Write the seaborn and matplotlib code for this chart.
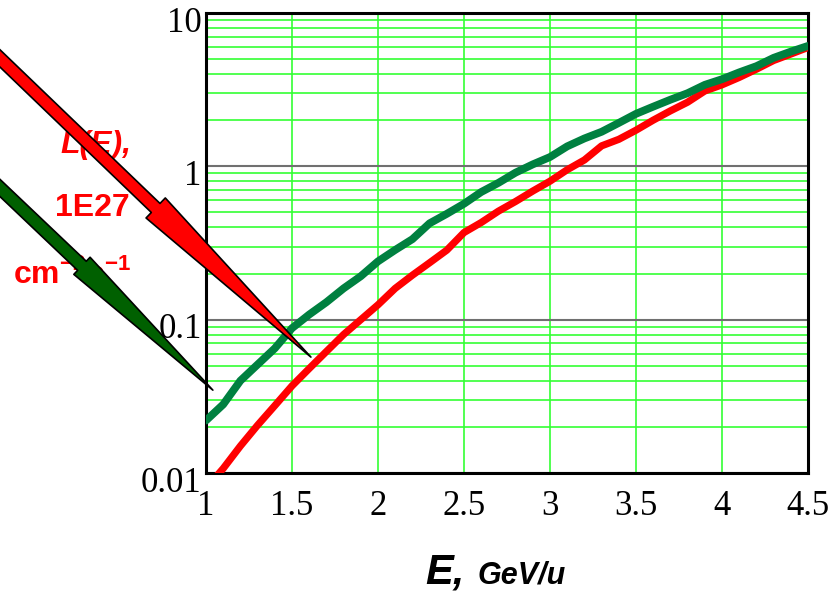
import numpy as np
import pandas as pd
import matplotlib
matplotlib.use('Agg')
import matplotlib.pyplot as plt
import matplotlib.transforms as mtransforms
from matplotlib.ticker import LogLocator, NullFormatter
import seaborn as sns

# energies (GeV/u) and luminosity values
e_green = [1.0, 1.1, 1.2, 1.3, 1.4, 1.5, 1.6, 1.7, 1.8, 1.9, 2.0, 2.1, 2.2, 2.3, 2.4,
           2.5, 2.6, 2.7, 2.8, 2.9, 3.0, 3.1, 3.2, 3.3, 3.4, 3.5, 3.6, 3.7, 3.8, 3.9,
           4.0, 4.1, 4.2, 4.3, 4.4, 4.5]
lum_green = [0.022, 0.028, 0.040, 0.051, 0.065, 0.088, 0.108, 0.130, 0.160, 0.192,
             0.240, 0.285, 0.335, 0.425, 0.49, 0.57, 0.68, 0.78, 0.91, 1.03,
             1.15, 1.35, 1.52, 1.68, 1.92, 2.2, 2.45, 2.72, 3.0, 3.4,
             3.7, 4.1, 4.5, 5.1, 5.6, 6.1]

e_red = [1.06, 1.1, 1.2, 1.3, 1.4, 1.5, 1.6, 1.7, 1.8, 1.9, 2.0, 2.1, 2.2, 2.3, 2.4,
         2.5, 2.6, 2.7, 2.8, 2.9, 3.0, 3.1, 3.2, 3.3, 3.4, 3.5, 3.6, 3.7, 3.8, 3.9,
         4.0, 4.1, 4.2, 4.3, 4.4, 4.5]
lum_red = [0.0095, 0.0107, 0.0150, 0.0205, 0.0275, 0.037, 0.048, 0.062, 0.080, 0.100,
           0.125, 0.160, 0.195, 0.235, 0.284, 0.37, 0.43, 0.51, 0.59, 0.69,
           0.80, 0.95, 1.10, 1.36, 1.50, 1.72, 2.00, 2.30, 2.62, 3.10,
           3.40, 3.80, 4.30, 4.90, 5.40, 5.96]

x_ticks = [1, 1.5, 2, 2.5, 3, 3.5, 4, 4.5]
x_labels = ['1', '1.5', '2', '2.5', '3', '3.5', '4', '4.5']
y_ticks = [0.01, 0.1, 1, 10]
y_labels = ['0.01', '0.1', '1', '10']

sns.set_style('white')
plt.rcParams['font.family'] = ['Liberation Sans', 'DejaVu Sans']
plt.rcParams['text.color'] = 'black'
plt.rcParams['xtick.color'] = 'black'
plt.rcParams['ytick.color'] = 'black'
plt.rcParams['mathtext.fontset'] = 'custom'
plt.rcParams['mathtext.rm'] = 'Liberation Sans'
plt.rcParams['mathtext.bf'] = 'Liberation Sans:bold'

fig = plt.figure(figsize=(8.4, 5.94), dpi=100)
ax = fig.add_axes([206 / 840, 121 / 594, 602 / 840, 460 / 594])

green_df = pd.DataFrame({'E': e_green, 'L': lum_green})
red_df = pd.DataFrame({'E': e_red, 'L': lum_red})

sns.lineplot(data=red_df, x='E', y='L', color='#ff0000', linewidth=5.2, ax=ax, zorder=3)
sns.lineplot(data=green_df, x='E', y='L', color='#008040', linewidth=5.6, ax=ax, zorder=3)

ax.set_yscale('log')
ax.set_xlim(1, 4.5)
ax.set_ylim(0.01, 10)

ax.set_xticks(x_ticks, labels=x_labels)
ax.set_yticks(y_ticks, labels=y_labels)
ax.yaxis.set_minor_locator(LogLocator(base=10, subs=np.arange(2, 10)))
ax.yaxis.set_minor_formatter(NullFormatter())

ax.set_axisbelow(True)
ax.grid(which='major', axis='x', color='#33ff33', linewidth=1.2)
ax.grid(which='minor', axis='y', color='#33ff33', linewidth=1.2)
ax.grid(which='major', axis='y', color='#707070', linewidth=1.5)

ax.tick_params(which='both', length=0)
ax.tick_params(axis='x', pad=12)
ax.tick_params(axis='y', pad=3)
for lab in ax.get_xticklabels() + ax.get_yticklabels():
    lab.set_fontfamily('Liberation Serif')
    lab.set_fontsize(25)
shift = mtransforms.ScaledTranslation(0, -6 / 100, fig.dpi_scale_trans)
for lab in ax.get_yticklabels():
    lab.set_transform(lab.get_transform() + shift)

for sp in ax.spines.values():
    sp.set_visible(True)
    sp.set_color('black')
    sp.set_linewidth(2.2)

ax.set_xlabel('')
ax.set_ylabel('')

# axis label below the chart
fig.text(425 / 840, 10 / 594, 'E,', fontsize=30, fontweight='bold', fontstyle='italic',
         va='baseline', ha='left')
fig.text(478 / 840, 10 / 594, 'GeV/u', fontsize=22, fontweight='bold', fontstyle='italic',
         va='baseline', ha='left')

# red y label on the left, drawn under the arrows
ax.text(60 / 840, 441 / 594, 'L(E),', transform=fig.transFigure, fontsize=23,
        fontweight='bold', fontstyle='italic', color='red', clip_on=False, zorder=4)
ax.text(55 / 840, 378 / 594, '1E27', transform=fig.transFigure, fontsize=23,
        fontweight='bold', color='red', clip_on=False, zorder=4)
ax.text(13 / 840, 311 / 594, r'cm$^{\mathbf{-2}}$s$^{\mathbf{-1}}$', transform=fig.transFigure,
        fontsize=23, fontweight='bold', color='red', clip_on=False, zorder=4)

# pointer arrows
ax.annotate('', xy=(1.61, 0.057), xycoords='data', xytext=(-40, 574), textcoords='figure pixels',
            arrowprops=dict(arrowstyle='simple,head_length=15.5,head_width=2.0,tail_width=0.9',
                            fc='red', ec='black', lw=1.2, shrinkA=0, shrinkB=0,
                            mutation_scale=10, clip_on=False),
            annotation_clip=False, zorder=6)
ax.annotate('', xy=(1.04, 0.0347), xycoords='data', xytext=(-40, 444), textcoords='figure pixels',
            arrowprops=dict(arrowstyle='simple,head_length=13,head_width=1.7,tail_width=0.9',
                            fc='#006000', ec='black', lw=1.2, shrinkA=0, shrinkB=0,
                            mutation_scale=10, clip_on=False),
            annotation_clip=False, zorder=6)

fig.savefig('out.png', dpi=100)
